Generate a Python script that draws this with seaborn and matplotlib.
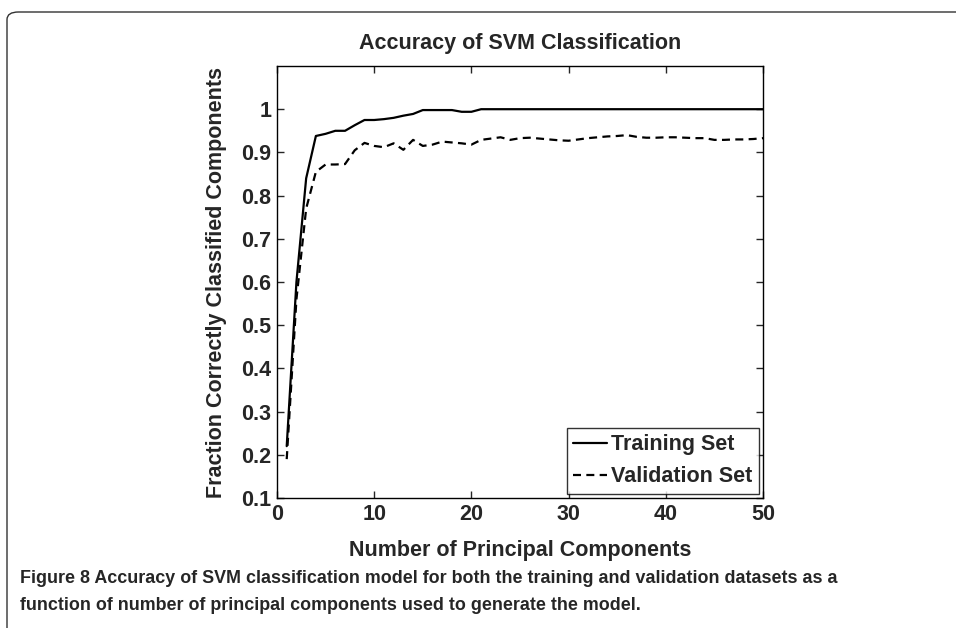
import numpy as np
import pandas as pd
import seaborn as sns
import matplotlib.pyplot as plt
from matplotlib.patches import FancyBboxPatch

# data
n_components = list(range(1, 51))
train_acc = [0.22, 0.60, 0.84, 0.938, 0.943, 0.950, 0.950, 0.963, 0.975, 0.975,
             0.977, 0.980, 0.985, 0.989, 0.998, 0.998, 0.998, 0.998, 0.994, 0.994,
             1.0, 1.0, 1.0, 1.0, 1.0, 1.0, 1.0, 1.0, 1.0, 1.0,
             1.0, 1.0, 1.0, 1.0, 1.0, 1.0, 1.0, 1.0, 1.0, 1.0,
             1.0, 1.0, 1.0, 1.0, 1.0, 1.0, 1.0, 1.0, 1.0, 1.0]
valid_acc = [0.19, 0.56, 0.77, 0.855, 0.872, 0.872, 0.873, 0.905, 0.922, 0.915,
             0.912, 0.921, 0.906, 0.929, 0.915, 0.918, 0.925, 0.923, 0.921, 0.918,
             0.929, 0.932, 0.935, 0.929, 0.933, 0.934, 0.932, 0.930, 0.928, 0.927,
             0.930, 0.933, 0.935, 0.937, 0.938, 0.940, 0.936, 0.934, 0.934, 0.935,
             0.935, 0.934, 0.933, 0.933, 0.929, 0.929, 0.930, 0.930, 0.931, 0.933]
x_ticks = [0, 10, 20, 30, 40, 50]
y_ticks = [0.1, 0.2, 0.3, 0.4, 0.5, 0.6, 0.7, 0.8, 0.9, 1.0]
y_tick_labels = ['0.1', '0.2', '0.3', '0.4', '0.5', '0.6', '0.7', '0.8', '0.9', '1']

df = pd.DataFrame({'pc': n_components, 'train': train_acc, 'valid': valid_acc})

sns.set_style('ticks')
plt.rcParams['font.family'] = ['Liberation Sans', 'DejaVu Sans']
plt.rcParams['font.weight'] = 'bold'
FS = 15.5  # one font size for all the chart text, as in the reference

fig = plt.figure(figsize=(9.56, 6.28), dpi=100)
ax = fig.add_axes([277 / 956, 1 - 498 / 628, (763 - 277) / 956, (498 - 66) / 628])

sns.lineplot(data=df, x='pc', y='train', ax=ax, color='black', lw=1.6,
             label='Training Set')
sns.lineplot(data=df, x='pc', y='valid', ax=ax, color='black', lw=1.6,
             linestyle=(0, (3.6, 2.4)), label='Validation Set')

ax.set_xlim(0, 50)
ax.set_ylim(0.1, 1.1)
ax.set_xticks(x_ticks)
ax.set_yticks(y_ticks)
ax.set_yticklabels(y_tick_labels)
ax.tick_params(direction='in', top=True, right=True, length=5, width=1,
               labelsize=FS, pad=4)
for lab in ax.get_xticklabels() + ax.get_yticklabels():
    lab.set_fontweight('bold')
for sp in ax.spines.values():
    sp.set_visible(True)
    sp.set_linewidth(1)
    sp.set_color('black')

ax.set_xlabel('Number of Principal Components', fontsize=FS, fontweight='bold', labelpad=11)
ax.set_ylabel('Fraction Correctly Classified Components', fontsize=FS, fontweight='bold',
              labelpad=10)
ax.set_title('Accuracy of SVM Classification', fontsize=FS, fontweight='bold', pad=12)

leg = ax.legend(loc='lower right', fontsize=FS, frameon=True, fancybox=False,
                edgecolor='black', handlelength=1.55, handletextpad=0.2,
                borderaxespad=0.2, borderpad=0.3, labelspacing=0.5)
leg.get_frame().set_linewidth(1)
for t in leg.get_texts():
    t.set_fontweight('bold')

# outer rounded panel border
border = FancyBboxPatch((7 / 956, -0.1), 1.1, 1 - 12 / 628 + 0.1,
                        boxstyle='round,pad=0,rounding_size=0.012',
                        transform=fig.transFigure, fill=False,
                        edgecolor='#333333', lw=1, clip_on=False)
fig.patches.append(border)

caption = ('Figure 8 Accuracy of SVM classification model for both the training and validation datasets as a\n'
           'function of number of principal components used to generate the model.')
fig.text(20 / 956, 1 - 570 / 628, caption, fontsize=12.85, fontweight='bold',
         ha='left', va='top', linespacing=1.8)

fig.savefig('out.png', dpi=100)
